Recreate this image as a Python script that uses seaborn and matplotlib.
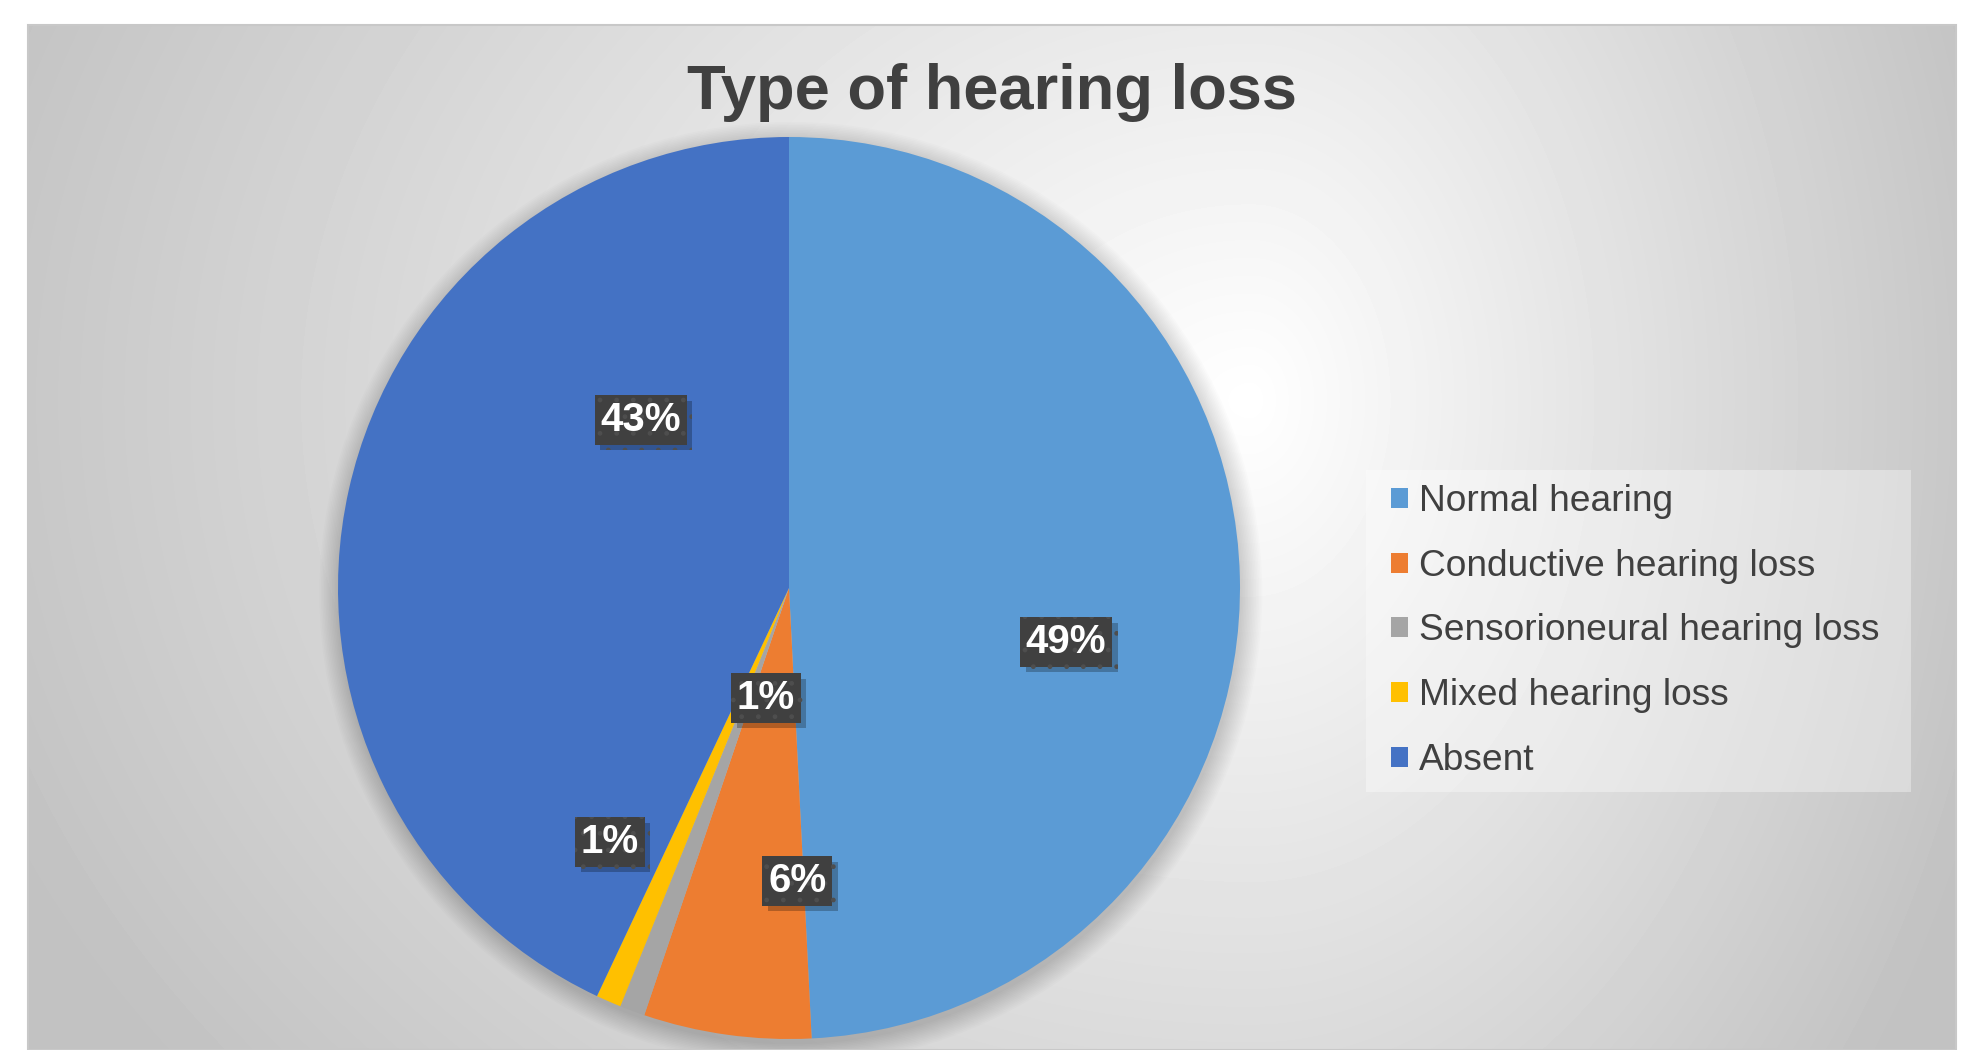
import numpy as np
import matplotlib
matplotlib.use("Agg")
import matplotlib.pyplot as plt
import matplotlib.patheffects as pe
from matplotlib.patches import Rectangle, Circle, Patch
import seaborn as sns

# Data
categories = ["Normal hearing", "Conductive hearing loss", "Sensorioneural hearing loss",
              "Mixed hearing loss", "Absent"]
shares = [49.2, 6.0, 0.9, 0.9, 43.0]   # percent
colors = ["#5B9BD5", "#ED7D31", "#A5A5A5", "#FFC000", "#4472C4"]

# label placement (polar, relative to pie)
label_angle = [-11.0, -88.4, -101.8, -125.2, 131.4]
label_rad = [0.626, 0.650, 0.249, 0.689, 0.497]

sns.set_theme(style="white")
plt.rcParams["font.family"] = ["Liberation Sans", "DejaVu Sans"]

W, H = 1983, 1050
fig = plt.figure(figsize=(W / 100, H / 100), dpi=100)
fig.patch.set_facecolor("white")

# chart area with soft radial gradient
x0, x1, ytop = 28, 1956, 25
bg = fig.add_axes([x0 / W, 0, (x1 - x0) / W, (H - ytop) / H])
xx, yy = np.meshgrid(np.arange(x0, x1), np.arange(ytop, H))
dx = xx - 1250.0
dy = yy - 400.0
nx = np.where(dx > 0, dx / 750.0, dx / 1300.0)
ny = dy / 1050.0
v = np.clip(1 - 0.23 * np.sqrt(nx ** 2 + ny ** 2), 0.76, 1.0)
bg.imshow(v, cmap="gray", vmin=0, vmax=1, aspect="auto", interpolation="bilinear")
bg.set_axis_off()
fig.add_artist(Rectangle((x0 / W, 0), (x1 - x0) / W, (H - ytop) / H, transform=fig.transFigure,
                         fill=False, edgecolor="#c8c8c8", linewidth=1.5))

# pie
cx, cy, R = 789, 588, 451
ax = fig.add_axes([(cx - R) / W, (H - cy - R) / H, 2 * R / W, 2 * R / H])
ax.set_axis_off()

# soft shadow behind the pie
for k in range(14):
    ax.add_patch(Circle((0.004, -0.012), 1.0 + 0.0035 * k, color="black", alpha=0.012,
                        linewidth=0, zorder=0, clip_on=False))

wedges, _ = ax.pie(shares, colors=colors, startangle=90, counterclock=False,
                   radius=1.0, wedgeprops=dict(linewidth=0))
for w in wedges:
    w.set_zorder(2)
ax.set_xlim(-1, 1)
ax.set_ylim(-1, 1)
ax.set_aspect("equal")

for val, ang, r in zip(shares, label_angle, label_rad):
    a = np.deg2rad(ang)
    t = ax.text(r * np.cos(a), r * np.sin(a), f"{round(val)}%", ha="center", va="center",
                fontsize=29, fontweight="bold", color="white", zorder=5,
                bbox=dict(boxstyle="square,pad=0.14", facecolor="#404040",
                          edgecolor="#4e4e4e", linewidth=0, hatch="."))
    t.get_bbox_patch().set_path_effects([
        pe.SimplePatchShadow(offset=(4, -4), shadow_rgbFace="#000000", alpha=0.25),
        pe.Normal()])

# title
fig.text(992 / W, 1 - 109 / H, "Type of hearing loss", ha="center", va="baseline",
         fontsize=45.5, fontweight="bold", color="#404040")

# legend
fig.add_artist(Rectangle((1366 / W, 1 - 792 / H), (1911 - 1366) / W, (792 - 470) / H,
                         transform=fig.transFigure, facecolor="white", alpha=0.35,
                         edgecolor="none"))
handles = [Patch(facecolor=c, edgecolor="none") for c in colors]
leg = fig.legend(handles, categories, loc="center left",
                 bbox_to_anchor=(1391 / W, 1 - 631 / H), frameon=False, borderpad=0,
                 borderaxespad=0, fontsize=26.7, handlelength=0.46, handleheight=0.46,
                 handletextpad=0.3, labelspacing=0.8)
for t in leg.get_texts():
    t.set_color("#404040")

fig.savefig("out.png", dpi=100)
